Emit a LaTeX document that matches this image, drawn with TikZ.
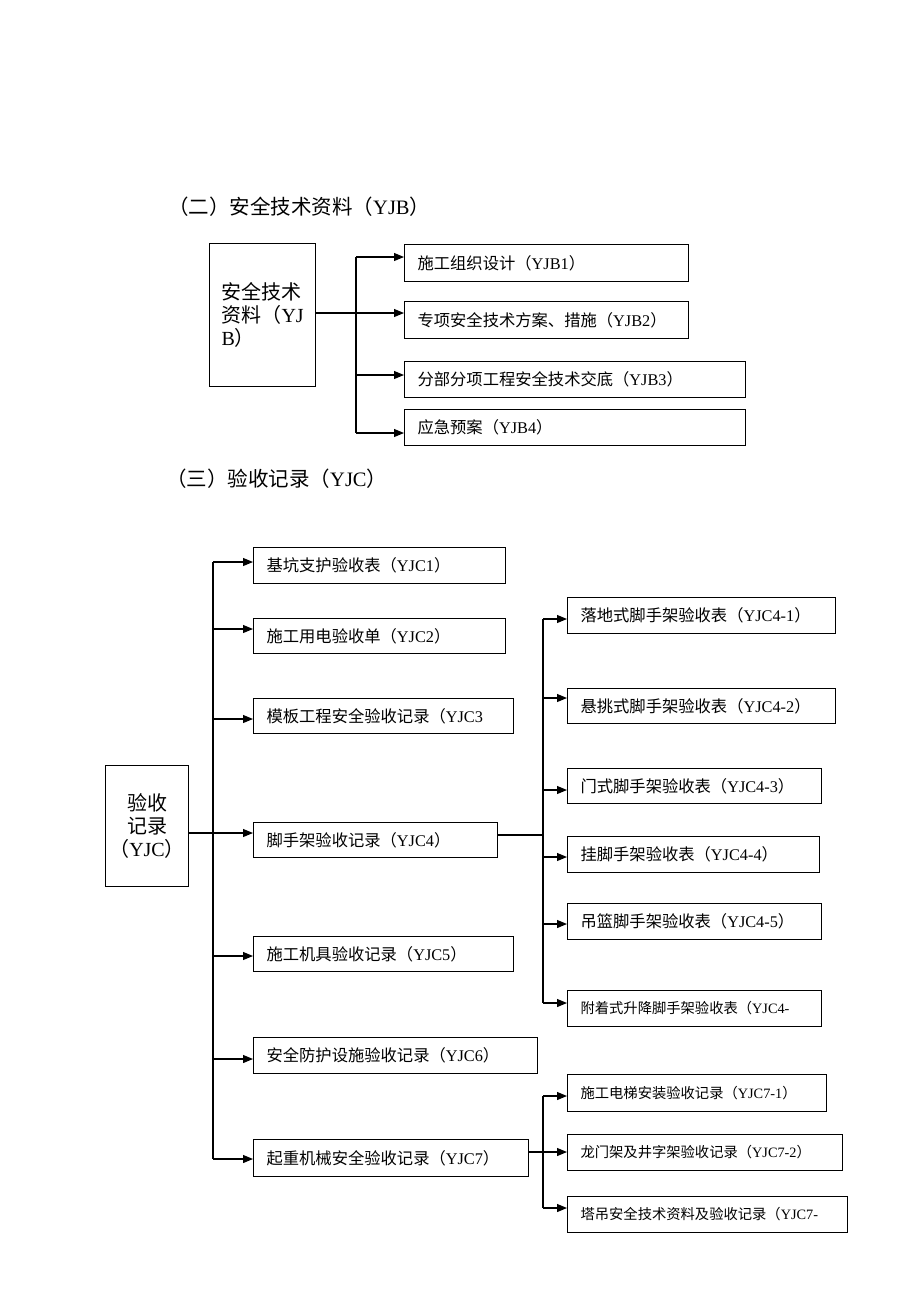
\documentclass[tikz,border=0pt]{standalone}
\usepackage{fontspec}
\setmainfont{Liberation Serif}
\newfontfamily\cjk{Noto Sans CJK SC}
\usetikzlibrary{arrows.meta}
\newcommand{\yj}[1]{{\rmfamily #1}}

\tikzset{
  box/.style 2 args={draw, line width=1.1pt, anchor=north west, inner xsep=13pt, inner ysep=0pt,
    text width=#1, minimum height=#2, align=left, font=\cjk\fontsize{16.3}{19}\selectfont},
  smallbox/.style 2 args={box={#1}{#2}, font=\cjk\fontsize{14.3}{17}\selectfont},
  head/.style={draw, line width=1.1pt, anchor=north west, inner sep=0pt, font=\cjk\fontsize{20}{23}\selectfont},
  heading/.style={anchor=west, inner sep=0pt, font=\cjk\fontsize{20.5}{24}\selectfont},
  link/.style={line width=1.1pt},
  feed/.style={line width=1.1pt, -{Triangle[length=10pt,width=8pt]}},
}

\begin{document}
\begin{tikzpicture}[x=1pt,y=-1pt]
  \useasboundingbox (0,0) rectangle (920,1302);

  % (二) YJB
  \node[heading] (t2) at (168,207) {（二）安全技术资料（\yj{YJB}）};
  \node[head, minimum width=106pt, minimum height=143pt, text width=82pt, inner xsep=12pt, align=left]
    (yjb) at (209,243) {安全技术\\资料（\yj{YJ}\\\yj{B}）};
  \node[box={258pt}{37pt}] (b1) at (404,244) {施工组织设计（\yj{YJB1}）};
  \node[box={258pt}{37pt}] (b2) at (404,301) {专项安全技术方案、措施（\yj{YJB2}）};
  \node[box={315pt}{36pt}] (b3) at (404,361) {分部分项工程安全技术交底（\yj{YJB3}）};
  \node[box={315pt}{36pt}] (b4) at (404,409) {应急预案（\yj{YJB4}）};

  \coordinate (jb) at (356,313);
  \coordinate (jbtop) at (356,257);
  \coordinate (jbbot) at (356,433);
  \draw[link] (yjb.east |- jb) -- (jb);
  \draw[link] (jbtop) -- (jbbot);
  \foreach \n/\y in {b1/257, b2/313, b3/375, b4/433}
    \draw[feed] (jb |- 0,\y) -- (\n.west |- 0,\y);

  % (三) YJC
  \node[heading] (t3) at (166,479) {（三）验收记录（\yj{YJC}）};
  \node[head, minimum width=83pt, minimum height=121pt, align=center]
    (yjc) at (105,765) {验收\\记录\\（\yj{YJC}）};
  \node[box={226pt}{36pt}] (c1) at (253,547) {基坑支护验收表（\yj{YJC1}）};
  \node[box={226pt}{35pt}] (c2) at (253,618) {施工用电验收单（\yj{YJC2}）};
  \node[box={234pt}{35pt}] (c3) at (253,698) {模板工程安全验收记录（\yj{YJC3}};
  \node[box={218pt}{35pt}] (c4) at (253,822) {脚手架验收记录（\yj{YJC4}）};
  \node[box={234pt}{35pt}] (c5) at (253,936) {施工机具验收记录（\yj{YJC5}）};
  \node[box={258pt}{36pt}] (c6) at (253,1037) {安全防护设施验收记录（\yj{YJC6}）};
  \node[box={249pt}{37pt}] (c7) at (253,1139) {起重机械安全验收记录（\yj{YJC7}）};

  \node[box={242pt}{36pt}] (d1) at (567,597) {落地式脚手架验收表（\yj{YJC4-1}）};
  \node[box={242pt}{35pt}] (d2) at (567,688) {悬挑式脚手架验收表（\yj{YJC4-2}）};
  \node[box={228pt}{35pt}] (d3) at (567,768) {门式脚手架验收表（\yj{YJC4-3}）};
  \node[box={226pt}{36pt}] (d4) at (567,836) {挂脚手架验收表（\yj{YJC4-4}）};
  \node[box={228pt}{36pt}] (d5) at (567,903) {吊篮脚手架验收表（\yj{YJC4-5}）};
  \node[smallbox={228pt}{36pt}] (d6) at (567,990) {附着式升降脚手架验收表（\yj{YJC4-}};

  \node[smallbox={233pt}{37pt}] (e1) at (567,1074) {施工电梯安装验收记录（\yj{YJC7-1}）};
  \node[smallbox={249pt}{36pt}] (e2) at (567,1134) {龙门架及井字架验收记录（\yj{YJC7-2}）};
  \node[smallbox={254pt}{36pt}] (e3) at (567,1196) {塔吊安全技术资料及验收记录（\yj{YJC7-}};

  \coordinate (jc) at (213,833);
  \coordinate (jctop) at (213,562);
  \coordinate (jcbot) at (213,1159);
  \draw[link] (yjc.east |- jc) -- (jc);
  \draw[link] (jctop) -- (jcbot);
  \foreach \n/\y in {c1/562, c2/629, c3/719, c4/833, c5/956, c6/1059, c7/1159}
    \draw[feed] (jc |- 0,\y) -- (\n.west |- 0,\y);

  \coordinate (jd) at (543,835);
  \coordinate (jdtop) at (543,619);
  \coordinate (jdbot) at (543,1003);
  \draw[link] (c4.east |- jd) -- (jd);
  \draw[link] (jdtop) -- (jdbot);
  \foreach \n/\y in {d1/619, d2/698, d3/790, d4/857, d5/924, d6/1003}
    \draw[feed] (jd |- 0,\y) -- (\n.west |- 0,\y);

  \coordinate (je) at (543,1152);
  \coordinate (jetop) at (543,1096);
  \coordinate (jebot) at (543,1208);
  \draw[link] (c7.east |- je) -- (je);
  \draw[link] (jetop) -- (jebot);
  \foreach \n/\y in {e1/1096, e2/1152, e3/1208}
    \draw[feed] (je |- 0,\y) -- (\n.west |- 0,\y);
\end{tikzpicture}
\end{document}
